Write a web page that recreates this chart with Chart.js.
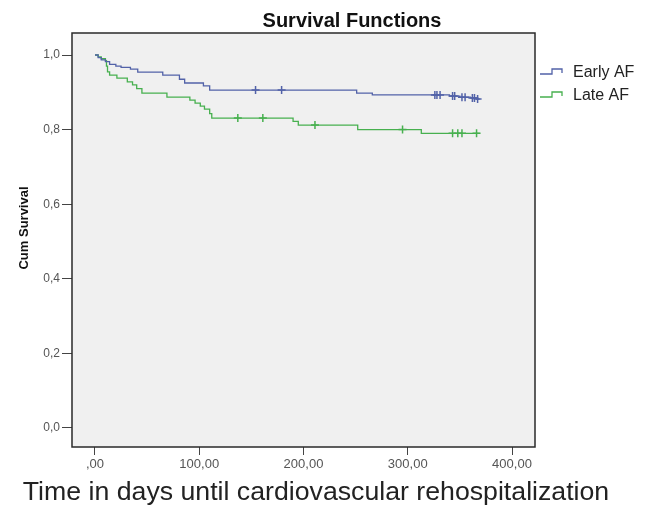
<!DOCTYPE html>
<html>
<head>
<meta charset="utf-8">
<script src="https://cdn.jsdelivr.net/npm/chart.js@4/dist/chart.umd.min.js"></script>
<style>
  html, body { margin: 0; padding: 0; background: #fff; }
  #km { display: block; }
</style>
</head>
<body>
<canvas id="km" width="645" height="506"></canvas>
<script>
/* =========================
   DATA
========================= */
const seriesNames = ["Early AF", "Late AF"];

// Early AF: event times (days) and survival after each step
const earlyDays = [0, 3, 6, 10, 14, 20, 25, 34, 41, 65, 81, 86, 104, 110, 251, 266, 340, 350, 360, 366, 369];
const earlySurv = [1.0, 0.993, 0.987, 0.982, 0.975, 0.97, 0.967, 0.962, 0.954, 0.946, 0.935, 0.925, 0.917, 0.906, 0.898, 0.893, 0.89, 0.887, 0.885, 0.882, 0.882];
const earlyCensored = [154, 179, 326, 328, 331, 343, 345, 352, 355, 362, 364, 367];

// Late AF
const lateDays = [0, 3, 6, 10, 11, 12, 14, 21, 31, 36, 40, 45, 69, 91, 96, 101, 105, 110, 112, 190, 195, 252, 313, 369];
const lateSurv = [1.0, 0.995, 0.99, 0.985, 0.97, 0.955, 0.946, 0.938, 0.928, 0.92, 0.91, 0.898, 0.887, 0.879, 0.871, 0.863, 0.855, 0.843, 0.831, 0.822, 0.812, 0.80, 0.79, 0.79];
const lateCensored = [137, 161, 211, 295, 343, 348, 352, 366];

const xTicks = [0, 100, 200, 300, 400];
const yTicks = [0, 0.2, 0.4, 0.6, 0.8, 1.0];

const BLUE = "#5262a8";
const GREEN = "#47b04f";
const FONT = "'Liberation Sans', Arial, sans-serif";

/* =========================
   HELPERS
========================= */
function toPoints(days, surv) {
    return days.map((d, i) => ({ x: d, y: surv[i] }));
}

// survival value of a step curve at time t
function survAt(days, surv, t) {
    let v = surv[0];
    for (let i = 0; i < days.length; i++) {
        if (days[i] <= t) v = surv[i];
    }
    return v;
}

function censorPoints(cens, days, surv) {
    return cens.map(t => ({ x: t, y: survAt(days, surv, t) }));
}

/* =========================
   PLUGIN: FRAME, TITLES, LEGEND
========================= */
const spssLook = {
    id: "spssLook",
    beforeDraw(chart) {
        const { ctx, chartArea: a } = chart;
        ctx.save();
        ctx.fillStyle = "#fff";
        ctx.fillRect(0, 0, chart.width, chart.height);
        ctx.fillStyle = "#f0f0f0";
        ctx.fillRect(a.left, a.top, a.right - a.left, a.bottom - a.top);
        ctx.restore();
    },
    afterDraw(chart) {
        const { ctx, chartArea: a } = chart;
        ctx.save();

        // plot box
        ctx.strokeStyle = "#2a2a2a";
        ctx.lineWidth = 1.5;
        ctx.strokeRect(a.left, a.top, a.right - a.left, a.bottom - a.top);

        // title
        ctx.fillStyle = "#111";
        ctx.font = "bold 20px " + FONT;
        ctx.textAlign = "center";
        ctx.textBaseline = "alphabetic";
        ctx.fillText("Survival Functions", 352, 27);

        // x axis title
        ctx.fillStyle = "#222";
        ctx.font = "26.7px " + FONT;
        ctx.fillText("Time in days until cardiovascular rehospitalization", 316, 500);

        // y axis title
        ctx.save();
        ctx.translate(28, 228);
        ctx.rotate(-Math.PI / 2);
        ctx.font = "bold 13px " + FONT;
        ctx.fillStyle = "#111";
        ctx.fillText("Cum Survival", 0, 0);
        ctx.restore();

        // legend
        const colors = [BLUE, GREEN];
        const rows = [72, 95];
        ctx.textAlign = "left";
        ctx.textBaseline = "middle";
        ctx.font = "16px " + FONT;
        seriesNames.forEach((name, i) => {
            const y = rows[i];
            ctx.strokeStyle = colors[i];
            ctx.lineWidth = 1.3;
            ctx.beginPath();
            ctx.moveTo(540, y + 2);
            ctx.lineTo(552, y + 2);
            ctx.lineTo(552, y - 3);
            ctx.lineTo(562, y - 3);
            ctx.lineTo(562, y + 1);
            ctx.stroke();
            ctx.fillStyle = "#222";
            ctx.fillText(name, 573, y + 1);
        });

        ctx.restore();
    }
};

/* =========================
   CHART
========================= */
function renderSurvivalChart() {
    const ctx = document.getElementById("km").getContext("2d");

    new Chart(ctx, {
        type: "scatter",
        data: {
            datasets: [
                {
                    label: seriesNames[0],
                    data: toPoints(earlyDays, earlySurv),
                    showLine: true,
                    stepped: "before",
                    borderColor: BLUE,
                    borderWidth: 1.3,
                    pointRadius: 0
                },
                {
                    label: seriesNames[1],
                    data: toPoints(lateDays, lateSurv),
                    showLine: true,
                    stepped: "before",
                    borderColor: GREEN,
                    borderWidth: 1.3,
                    pointRadius: 0
                },
                {
                    label: seriesNames[0] + " censored",
                    data: censorPoints(earlyCensored, earlyDays, earlySurv),
                    pointStyle: "cross",
                    pointRadius: 4,
                    borderColor: BLUE,
                    borderWidth: 1.5
                },
                {
                    label: seriesNames[1] + " censored",
                    data: censorPoints(lateCensored, lateDays, lateSurv),
                    pointStyle: "cross",
                    pointRadius: 4,
                    borderColor: GREEN,
                    borderWidth: 1.5
                }
            ]
        },
        options: {
            responsive: false,
            animation: false,
            layout: { padding: { left: 0, top: 33, right: 110, bottom: 0 } },
            plugins: {
                legend: { display: false },
                title: { display: false },
                tooltip: { enabled: false }
            },
            scales: {
                x: {
                    type: "linear",
                    min: -22.06,
                    max: 422.06,
                    afterBuildTicks: s => { s.ticks = xTicks.map(v => ({ value: v })); },
                    afterFit: s => { s.height = 59; },
                    border: { display: false },
                    grid: { drawOnChartArea: false, drawTicks: true, tickLength: 8, color: "#444" },
                    ticks: {
                        color: "#555",
                        padding: 2,
                        maxRotation: 0,
                        font: { family: FONT, size: 13 },
                        callback: v => v === 0 ? ",00" : v.toFixed(2).replace(".", ",")
                    }
                },
                y: {
                    type: "linear",
                    min: -0.051,
                    max: 1.059,
                    afterBuildTicks: s => { s.ticks = yTicks.map(v => ({ value: v })); },
                    afterFit: s => { s.width = 72; },
                    border: { display: false },
                    grid: { drawOnChartArea: false, drawTicks: true, tickLength: 10, color: "#444" },
                    ticks: {
                        color: "#555",
                        padding: 2,
                        font: { family: FONT, size: 12 },
                        callback: v => v.toFixed(1).replace(".", ",")
                    }
                }
            }
        },
        plugins: [spssLook]
    });
}

renderSurvivalChart();
</script>
</body>
</html>
